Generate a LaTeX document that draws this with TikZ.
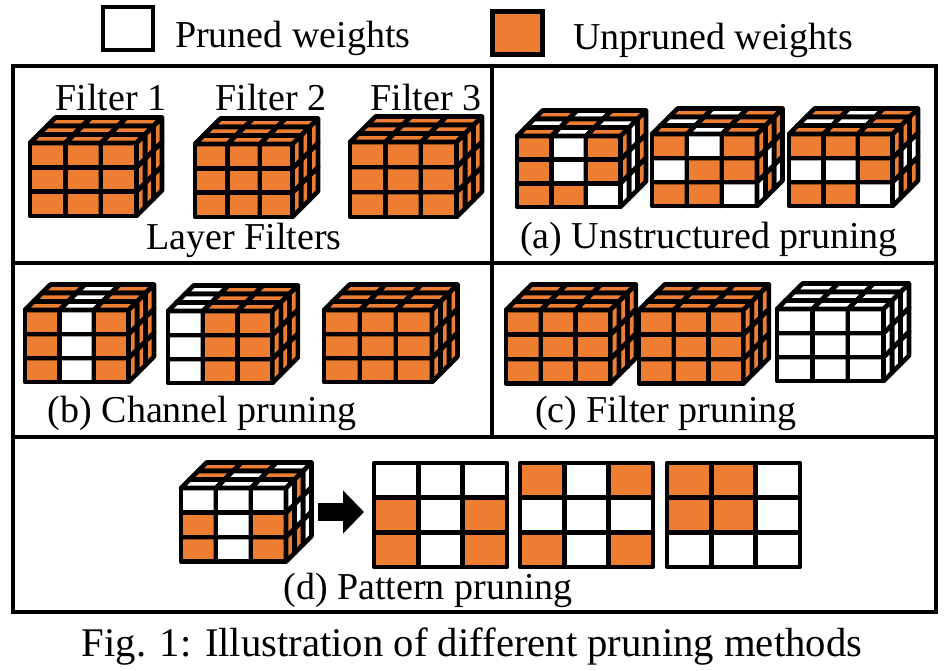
\documentclass[tikz,border=0pt]{standalone}
\usepackage{fontspec}
\setmainfont{Liberation Serif}
\usetikzlibrary{arrows.meta}
\definecolor{unpruned}{RGB}{237,125,49}

% 3x3x3 filter: front top left x, y, cell width, cell height, 27 entries (1 = unpruned)
\newcommand{\weightcube}[5]{%
  \foreach \k in {2,1,0}{
    \foreach \j in {2,1,0}{
      \foreach \i in {0,1,2}{
        \pgfmathtruncatemacro{\keep}{{#5}[\k*9+\j*3+\i]}
        \ifnum\keep=1 \def\col{unpruned}\else\def\col{white}\fi
        \pgfmathsetmacro{\cx}{#1+\i*#3+\k*8.5}
        \pgfmathsetmacro{\cy}{#2+\j*#4-\k*8.5}
        \filldraw[cell,fill=\col] (\cx,\cy) rectangle ++(#3,#4);
        \filldraw[cell,fill=\col] (\cx,\cy) -- ++(8.5,-8.5) -- ++(#3,0) -- ++(-8.5,8.5) -- cycle;
        \filldraw[cell,fill=\col] (\cx+#3,\cy) -- ++(8.5,-8.5) -- ++(0,#4) -- ++(-8.5,8.5) -- cycle;
      }}}}

% flat 3x3 kernel: top left x, y, 9 entries
\newcommand{\weightgrid}[3]{%
  \foreach \j in {0,1,2}{
    \foreach \i in {0,1,2}{
      \pgfmathtruncatemacro{\keep}{{#3}[\j*3+\i]}
      \ifnum\keep=1 \def\col{unpruned}\else\def\col{white}\fi
      \filldraw[cell,fill=\col] (#1+\i*44.3,#2+\j*34.7) rectangle ++(44.3,34.7);
    }}}

\begin{document}
\begin{tikzpicture}[x=1pt,y=-1pt,
    cell/.style={line width=4.6pt,draw=black,line join=round},
    frame/.style={line width=4pt},
    legend/.style={draw,line width=4.5pt,minimum width=50pt,minimum height=43pt,inner sep=0pt},
    lbl/.style={font=\fontsize{38}{40}\selectfont,inner sep=0pt,anchor=base}]
   \useasboundingbox (0,0) rectangle (952,671);
   % legend
   \node[legend,fill=white] (pruned) at (128,28.5) {};
   \node[legend,fill=unpruned] (unpruned) at (517.5,33) {};
   \node[lbl,anchor=base west] (prunedtext) at (175,48) {Pruned weights};
   \node[lbl,anchor=base west] (unprunedtext) at (573,50) {Unpruned weights};
   % panels
   \draw[frame] (13,66) rectangle (936,612);
   \draw[frame] (492,66) -- (492,437);
   \draw[frame] (13,263) -- (936,263);
   \draw[frame] (13,437) -- (936,437);
   % layer filters
   \node[lbl] (f1) at (111,111) {Filter 1};
   \node[lbl] (f2) at (271,111) {Filter 2};
   \node[lbl] (f3) at (426,111) {Filter 3};
   \weightcube{30}{143}{35.5}{24.3}{1,1,1,1,1,1,1,1,1, 1,1,1,1,1,1,1,1,1, 1,1,1,1,1,1,1,1,1}
   \weightcube{195}{144}{32.5}{24.3}{1,1,1,1,1,1,1,1,1, 1,1,1,1,1,1,1,1,1, 1,1,1,1,1,1,1,1,1}
   \weightcube{350}{142}{35.5}{25}{1,1,1,1,1,1,1,1,1, 1,1,1,1,1,1,1,1,1, 1,1,1,1,1,1,1,1,1}
   \node[lbl] (layer) at (244,249) {Layer Filters};
   % (a)
   \weightcube{517}{136}{34.5}{23.6}{1,0,1,1,0,1,1,1,0, 0,1,0,1,1,0,1,1,0, 1,0,1,1,1,1,1,1,1}
   \weightcube{652}{134}{35}{24}{1,0,1,0,1,1,1,1,0, 0,1,1,1,1,0,1,1,1, 1,0,1,1,1,1,1,1,0}
   \weightcube{789}{134}{34.5}{24}{1,1,1,0,0,1,1,1,0, 0,0,1,1,1,0,1,1,1, 1,0,1,1,1,0,1,1,1}
   \node[lbl] (capa) at (709,248) {(a) Unstructured pruning};
   % (b)
   \weightcube{25}{310}{34.5}{24}{1,0,1,1,0,1,1,0,1, 1,0,1,1,0,1,1,0,1, 1,0,1,1,0,1,1,0,1}
   \weightcube{168}{311}{34.8}{24}{0,1,1,0,1,1,0,1,1, 0,1,1,0,1,1,0,1,1, 0,1,1,0,1,1,0,1,1}
   \weightcube{324}{310}{36}{24}{1,1,1,1,1,1,1,1,1, 1,1,1,1,1,1,1,1,1, 1,1,1,1,1,1,1,1,1}
   \node[lbl] (capb) at (202,422) {(b) Channel pruning};
   % (c)
   \weightcube{506}{310}{34.8}{24.5}{1,1,1,1,1,1,1,1,1, 1,1,1,1,1,1,1,1,1, 1,1,1,1,1,1,1,1,1}
   \weightcube{639}{310}{34.8}{24.5}{1,1,1,1,1,1,1,1,1, 1,1,1,1,1,1,1,1,1, 1,1,1,1,1,1,1,1,1}
   \weightcube{777}{309}{35.5}{24}{0,0,0,0,0,0,0,0,0, 0,0,0,0,0,0,0,0,0, 0,0,0,0,0,0,0,0,0}
   \node[lbl] (capc) at (666,422) {(c) Filter pruning};
   % (d)
   \weightcube{181}{488}{35}{24.5}{0,0,0,1,0,1,1,0,1, 1,0,1,0,0,0,1,0,1, 1,1,0,1,1,0,0,0,0}
   \coordinate (arrowtail) at (318,512);
   \coordinate (arrowtip) at (364,512);
   \draw[line width=18pt,-{Triangle[length=21pt,width=42pt]}] (arrowtail) -- (arrowtip);
   \weightgrid{374}{463}{0,0,0,1,0,1,1,0,1}
   \weightgrid{520}{463}{1,0,1,0,0,0,1,0,1}
   \weightgrid{667}{463}{1,1,0,1,1,0,0,0,0}
   \node[lbl] (capd) at (428,599) {(d) Pattern pruning};
   % caption
   \node[lbl,font=\fontsize{40.7}{42}\selectfont] (caption) at (472,656) {Fig. 1: Illustration of different pruning methods};
\end{tikzpicture}
\end{document}
